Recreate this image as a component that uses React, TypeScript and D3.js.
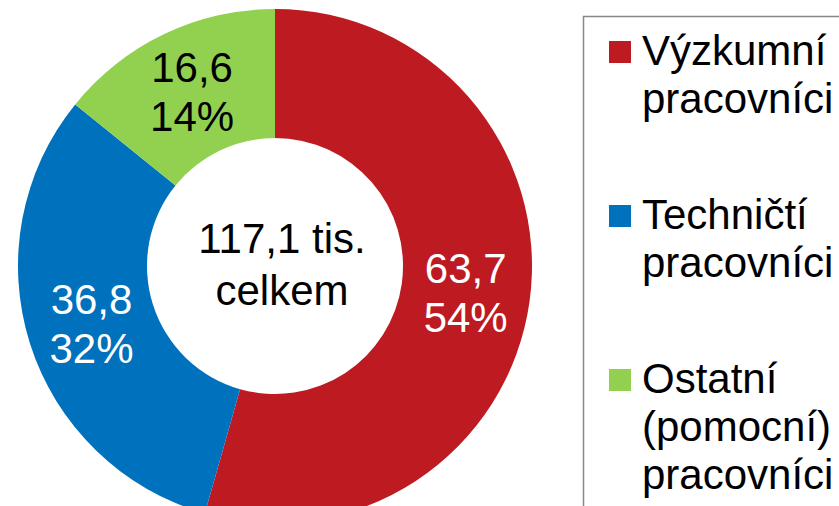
import React, { useEffect, useRef } from 'react';
import * as d3 from 'd3';

const categories = ['Výzkumní pracovníci', 'Techničtí pracovníci', 'Ostatní (pomocní) pracovníci'];
const legendLines = [['Výzkumní', 'pracovníci'], ['Techničtí', 'pracovníci'], ['Ostatní', '(pomocní)', 'pracovníci']];
const values = [63.7, 36.8, 16.6];
const valueLabels = ['63,7', '36,8', '16,6'];
const percentLabels = ['54%', '32%', '14%'];
const colors = ['#BE1A22', '#0071BC', '#92D050'];
const labelColors = ['#ffffff', '#ffffff', '#000000'];
const centerLines = ['117,1 tis.', 'celkem'];

const W = 839;
const H = 506;

const App = () => {
  const svgRef = useRef<SVGSVGElement>(null);

  useEffect(() => {
    const svg = d3.select(svgRef.current);
    svg.selectAll('*').remove();

    const font = '"Liberation Sans", Arial, sans-serif';
    const cx = 275;
    const cy = 266;
    const outerR = 257;
    const innerR = 128;

    const pie = d3.pie<number>().sort(null).value((d) => d);
    const arc = d3.arc<d3.PieArcDatum<number>>().innerRadius(innerR).outerRadius(outerR);
    const arcs = pie(values);

    const g = svg.append('g').attr('transform', `translate(${cx},${cy})`);

    g.selectAll('path')
      .data(arcs)
      .enter()
      .append('path')
      .attr('d', arc)
      .attr('fill', (d, i) => colors[i]);

    // slice labels: value + percent
    arcs.forEach((d, i) => {
      const [x, y] = arc.centroid(d);
      const t = g
        .append('text')
        .attr('text-anchor', 'middle')
        .style('font-family', font)
        .style('font-size', '42px')
        .attr('fill', labelColors[i]);
      t.append('tspan').attr('x', x).attr('y', y - 10).text(valueLabels[i]);
      t.append('tspan').attr('x', x).attr('y', y + 39).text(percentLabels[i]);
    });

    // center text
    const ct = g
      .append('text')
      .attr('text-anchor', 'middle')
      .style('font-family', font)
      .style('font-size', '42px')
      .attr('fill', '#000');
    centerLines.forEach((s, i) => {
      ct.append('tspan').attr('x', 7).attr('y', -13 + i * 52).text(s);
    });

    // legend
    const legend = svg.append('g');
    legend
      .append('rect')
      .attr('x', 583.5)
      .attr('y', 16.5)
      .attr('width', 300)
      .attr('height', 520)
      .attr('fill', 'none')
      .attr('stroke', '#888')
      .attr('stroke-width', 1.5);

    const entryTop = [65, 229, 393];
    categories.forEach((c, i) => {
      const item = legend.append('g').attr('class', 'legend-item').attr('data-name', c);
      item
        .append('rect')
        .attr('x', 609)
        .attr('y', entryTop[i] - 24)
        .attr('width', 22)
        .attr('height', 22)
        .attr('fill', colors[i]);
      const t = item
        .append('text')
        .style('font-family', font)
        .style('font-size', '42px')
        .attr('fill', '#000');
      legendLines[i].forEach((s, j) => {
        t.append('tspan').attr('x', 642).attr('y', entryTop[i] + j * 48).text(s);
      });
    });
  }, []);

  return (
    <svg
      ref={svgRef}
      width={W}
      height={H}
      style={{ position: 'absolute', left: 0, top: 0, background: '#fff' }}
    />
  );
};

export default App;
